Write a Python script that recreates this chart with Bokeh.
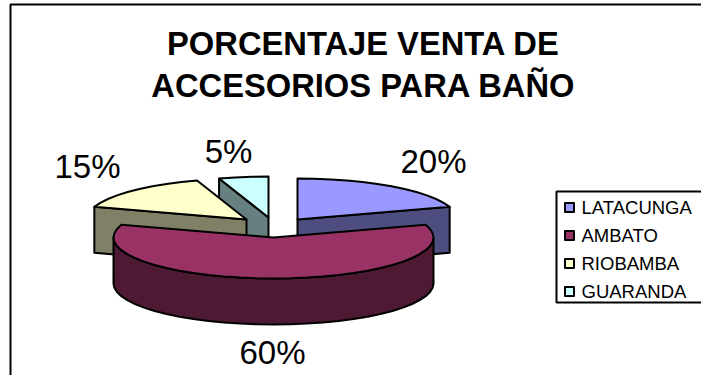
import numpy as np
from bokeh.embed import file_html
from bokeh.resources import INLINE
from bokeh.plotting import figure
from bokeh.models import Range1d
from bokeh.core.properties import value

categories = ["LATACUNGA", "AMBATO", "RIOBAMBA", "GUARANDA"]
percent = [20, 60, 15, 5]
top_colors = ["#9999FF", "#993366", "#FFFFCC", "#CCFFFF"]
side_colors = ["#4D4D80", "#4D1933", "#808066", "#668080"]
title_lines = ["PORCENTAJE VENTA DE", "ACCESORIOS PARA BAÑO"]

# Page-pixel canvas with y pointing down
W, H = 701, 375
p = figure(width=W, height=H, output_backend="svg", toolbar_location=None,
           x_range=Range1d(0, W), y_range=Range1d(H, 0), min_border=0)
p.axis.visible = False
p.grid.visible = False
p.outline_line_color = None

FONT = value("Liberation Sans")
A, B, DEPTH = 160.0, 41.0, 46.0
# Exploded apex of each slice on the canvas
apex = [(297, 219), (273, 237), (246, 219), (268, 217)]


def rim(cx, cy, a0, a1):
    """Ellipse rim between two clockwise-from-north angles, in degrees."""
    n = max(2, int(abs(a1 - a0) / 6) + 1)
    t = np.radians(np.linspace(a0, a1, n))
    return cx + A * np.sin(t), cy - B * np.cos(t)


def outline(xs, ys, fill):
    p.patch(list(xs), list(ys), fill_color=fill, line_color="black", line_width=2,
            line_join="round")


# Slice angular spans come from the percentages
edges = np.cumsum([0] + percent) * 3.6
spans = {i: (edges[i], edges[i + 1]) for i in range(4)}

# The chart area is open on the right and at the bottom of the page
p.line([10, 10, W], [H, 4, 4], line_color="black", line_width=2)

# Back slices first, the large front slice last
for i in [3, 0, 2]:
    cx, cy = apex[i]
    a0, a1 = spans[i]
    cut = a1 if i == 0 else a0
    ex = cx + A * np.sin(np.radians(cut))
    ey = cy - B * np.cos(np.radians(cut))
    outline([cx, ex, ex, cx], [cy, ey, ey + DEPTH, cy + DEPTH], side_colors[i])
    rx, ry = rim(cx, cy, a0, a1)
    outline(np.r_[cx, rx], np.r_[cy, ry], top_colors[i])

cx, cy = apex[1]
a0, a1 = spans[1]
rx, ry = rim(cx, cy, 90, 270)
outline(np.r_[rx, rx[::-1]], np.r_[ry, ry[::-1] + DEPTH], side_colors[1])
rx, ry = rim(cx, cy, a0, a1)
outline(np.r_[cx, rx], np.r_[cy, ry], top_colors[1])

# Title
for line, y in zip(title_lines, [43, 85]):
    p.text([363], [y], text=[line], text_font=FONT, text_font_style="bold",
           text_font_size="32.7px", text_align="center", text_baseline="middle",
           text_color="black")

# Percentage labels
label_pos = [(433, 161), (272, 352), (87, 166), (228, 151)]
for v, (x, y) in zip(percent, label_pos):
    p.text([x], [y], text=[f"{v}%"], text_font=FONT, text_font_size="33px",
           text_align="center", text_baseline="middle", text_color="black")

# Legend, its box also running off the right of the page
p.line([W, 556, 556, W], [191, 191, 302, 302], line_color="black", line_width=2)
for i, name in enumerate(categories):
    y = 207 + i * 28
    s = 4.5
    outline([569 - s, 569 + s, 569 + s, 569 - s], [y - s, y - s, y + s, y + s], top_colors[i])
    p.text([581], [y], text=[name], text_font=FONT, text_font_size="18.5px",
           text_align="left", text_baseline="middle", text_color="black")

open("out.html", "w").write(file_html(p, INLINE))
